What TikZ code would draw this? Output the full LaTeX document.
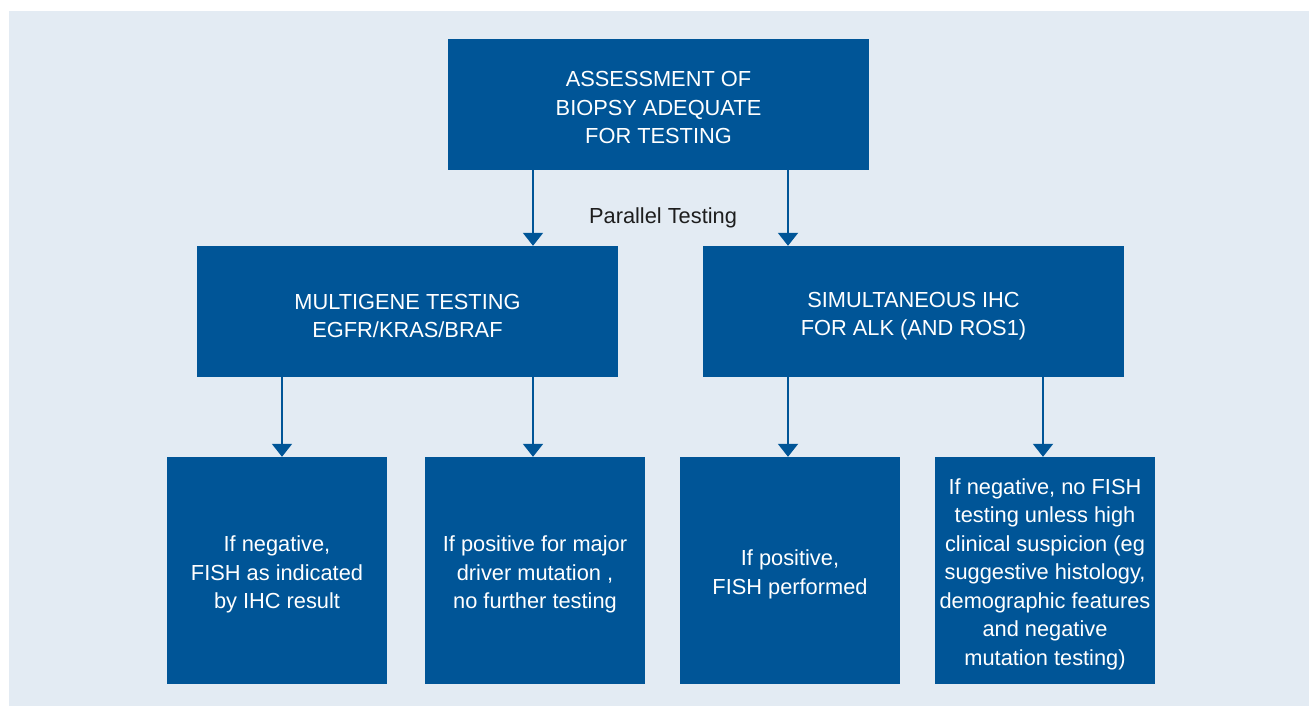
\documentclass[tikz,border=0pt]{standalone}
\usepackage{fontspec}
\setmainfont{Liberation Sans}
\usetikzlibrary{arrows.meta}
\definecolor{boxblue}{RGB}{0,85,151}
\definecolor{bgblue}{RGB}{227,235,243}
\definecolor{txtgray}{RGB}{30,30,30}
\tikzset{
  box/.style={draw=none, fill=boxblue, inner sep=0pt},
  bigbox/.style={box, minimum width=421pt, minimum height=131pt},
  smallbox/.style={box, minimum width=220pt, minimum height=227pt},
  boxtext/.style={text=white, align=center, inner sep=0pt,
    font=\fontsize{21.8}{28.5}\selectfont},
  arr/.style={draw=boxblue, line width=2pt, -{Triangle[width=20pt,length=13pt]}},
}
\begin{document}
\begin{tikzpicture}[x=1pt,y=-1pt]
\useasboundingbox (0,0) rectangle (1314,706);
\fill[white] (0,0) rectangle (1314,706);
\fill[bgblue] (9,11) rectangle (1309,706);

\node[bigbox] (top) at (658.5,104.5) {};
\node[bigbox] (ml) at (407.5,311.5) {};
\node[bigbox] (mr) at (913.5,311.5) {};
\node[smallbox] (b1) at (277,570.5) {};
\node[smallbox] (b2) at (535,570.5) {};
\node[smallbox] (b3) at (790,570.5) {};
\node[smallbox] (b4) at (1045,570.5) {};

\node[boxtext] (topt) at ([yshift=-3pt]top.center) {ASSESSMENT OF\\BIOPSY ADEQUATE\\FOR TESTING};
\node[boxtext] (mlt) at ([yshift=-4.5pt]ml.center) {MULTIGENE TESTING\\EGFR/KRAS/BRAF};
\node[boxtext] (mrt) at ([yshift=-4.5pt]mr.center) {SIMULTANEOUS IHC\\FOR ALK (AND ROS1)};
\node[boxtext] (b1t) at ([yshift=-4pt]b1.center) {If negative,\\FISH as indicated\\by IHC result};
\node[boxtext] (b2t) at ([yshift=-4pt]b2.center) {If positive for major\\driver mutation ,\\no further testing};
\node[boxtext] (b3t) at ([yshift=-4pt]b3.center) {If positive,\\FISH performed};
\node[boxtext] (b4t) at ([yshift=-3.5pt]b4.center) {If negative, no FISH\\testing unless high\\clinical suspicion (eg\\suggestive histology,\\demographic features\\and negative\\mutation testing)};

\node[text=txtgray, font=\fontsize{21.8}{28.5}\selectfont, inner sep=0pt] (pt) at (663,218) {Parallel Testing};

\coordinate (a1) at (282,0);
\coordinate (a2) at (533,0);
\coordinate (a3) at (788,0);
\coordinate (a4) at (1043,0);

\draw[arr] (top.south -| a2) -- (ml.north -| a2);
\draw[arr] (top.south -| a3) -- (mr.north -| a3);
\draw[arr] (ml.south -| a1) -- (b1.north -| a1);
\draw[arr] (ml.south -| a2) -- (b2.north -| a2);
\draw[arr] (mr.south -| a3) -- (b3.north -| a3);
\draw[arr] (mr.south -| a4) -- (b4.north -| a4);
\end{tikzpicture}
\end{document}
